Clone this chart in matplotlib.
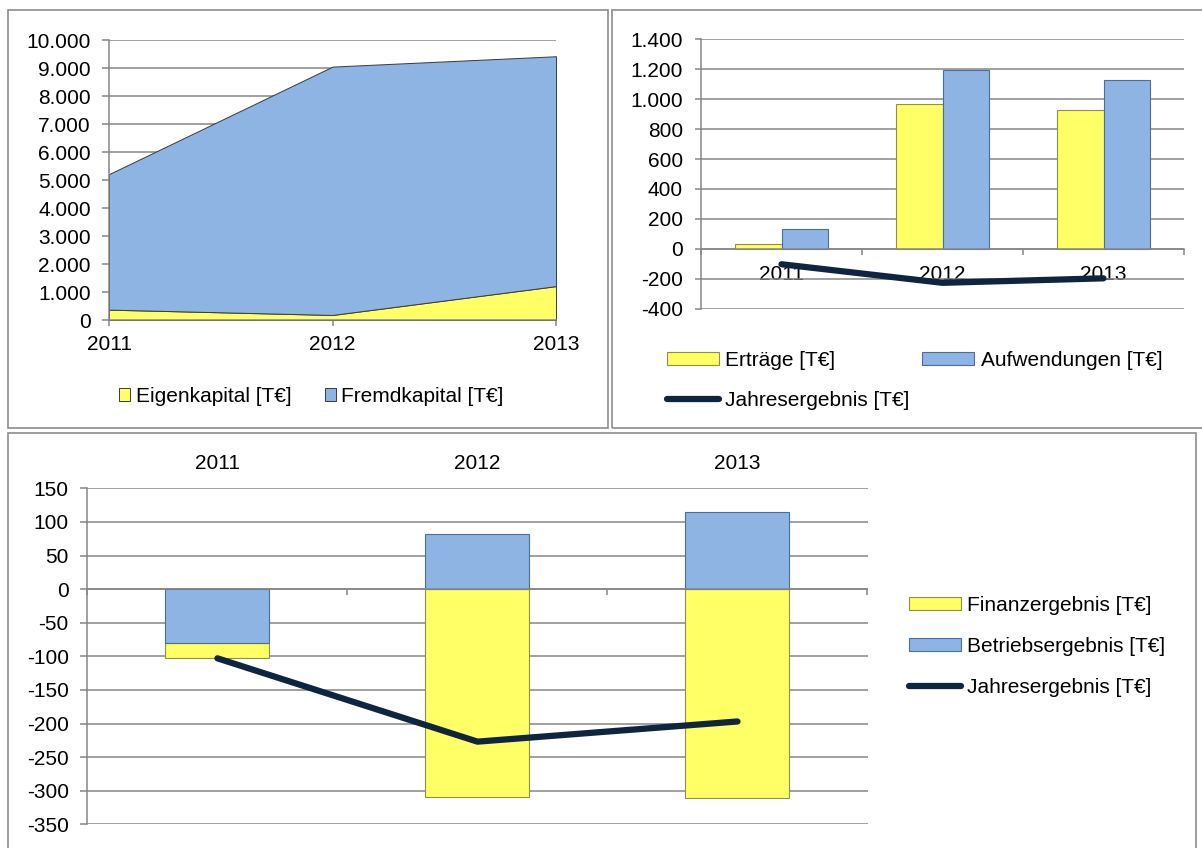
import numpy as np
import matplotlib.pyplot as plt
from matplotlib.patches import Rectangle
from matplotlib.ticker import FuncFormatter, FixedLocator

plt.rcParams['font.family'] = ['Liberation Sans', 'DejaVu Sans']
plt.rcParams['font.size'] = 15

years = ['2011', '2012', '2013']

# Bilanz
eigenkapital = [370, 180, 1210]
fremdkapital = [4840, 8870, 8210]

# GuV
ertraege = [30, 965, 928]
aufwendungen = [135, 1193, 1125]

# Ergebnis
betriebsergebnis = [-80, 82, 114]
finanzergebnis = [-23, -309, -311]
jahresergebnis = [-103, -227, -197]

YELLOW = '#FFFF66'
YELLOW_EDGE = '#8F8F45'
BLUE = '#8DB4E2'
BLUE_EDGE = '#4A6E9C'
NAVY = '#0F243E'
GRID = '#868686'

W, H = 1202, 848
fig = plt.figure(figsize=(W / 100, H / 100), dpi=100)


def box(l, t, r, b):
    return [l / W, 1 - b / H, (r - l) / W, (b - t) / H]


def de_fmt(v, pos):
    return f"{v:,.0f}".replace(",", ".")


def style(ax, ylo, yhi, step, tlen, pad):
    ax.set_ylim(ylo, yhi)
    ax.set_yticks(np.arange(ylo, yhi + step / 2, step))
    ax.yaxis.set_major_formatter(FuncFormatter(de_fmt))
    ax.grid(axis='y', color=GRID, lw=1.1)
    ax.set_axisbelow(True)
    for s in ['top', 'right']:
        ax.spines[s].set_visible(False)
    for s in ['left', 'bottom']:
        ax.spines[s].set_color(GRID)
        ax.spines[s].set_linewidth(1.1)
    ax.tick_params(axis='y', color=GRID, length=tlen, width=1.1, pad=pad)
    ax.tick_params(axis='x', color=GRID, width=1.1)


# panel frames
for l, t, r, b in [(8, 10, 608, 428), (612, 10, 1204, 428), (8, 433, 1196, 852)]:
    fig.add_artist(Rectangle((l / W, 1 - b / H), (r - l) / W, (b - t) / H,
                             transform=fig.transFigure, fill=False,
                             edgecolor='#8C8C8C', lw=1.2))

# --- Eigenkapital / Fremdkapital area chart
ax1 = fig.add_axes(box(109, 40, 556, 320))
x = np.arange(len(years))
polys = ax1.stackplot(x, eigenkapital, fremdkapital, colors=[YELLOW, BLUE],
                      edgecolor='#3A3A3A', lw=0.7,
                      labels=['Eigenkapital [T€]', 'Fremdkapital [T€]'])
ax1.set_xlim(0, 2)
style(ax1, 0, 10000, 1000, 5, 8)
ax1.set_xticks(x, years)
ax1.tick_params(axis='x', length=4, pad=7)
fig.legend(handles=polys, loc='upper left', bbox_to_anchor=(119 / W, 1 - 387 / H),
           ncol=2, frameon=False, handlelength=0.55, handleheight=0.55,
           handletextpad=0.25, columnspacing=1.6, borderpad=0, borderaxespad=0)

# --- Erträge / Aufwendungen bars
ax2 = fig.add_axes(box(701, 39.3, 1184, 308.7))
w = 0.288
b1 = ax2.bar(x - w / 2, ertraege, w, color=YELLOW, edgecolor=YELLOW_EDGE, lw=0.8,
             label='Erträge [T€]')
b2 = ax2.bar(x + w / 2, aufwendungen, w, color=BLUE, edgecolor=BLUE_EDGE, lw=0.8,
             label='Aufwendungen [T€]')
l2, = ax2.plot(x, jahresergebnis, color=NAVY, lw=4.5, solid_capstyle='round',
               zorder=4, label='Jahresergebnis [T€]')
ax2.set_xlim(-0.5, 2.5)
style(ax2, -400, 1400, 200, 4.5, 8.5)
ax2.spines['bottom'].set_position(('data', 0))
ax2.set_xticks(x, years)
ax2.xaxis.set_minor_locator(FixedLocator([-0.5, 0.5, 1.5, 2.5]))
ax2.tick_params(axis='x', which='major', length=0, pad=12)
ax2.tick_params(axis='x', which='minor', length=4, color=GRID, width=1.1)
fig.legend(handles=[b1, l2, b2], loc='upper left',
           bbox_to_anchor=(667 / W, 1 - 351 / H), ncol=2, frameon=False,
           handlelength=2.5, handleheight=0.55, handletextpad=0.3,
           columnspacing=0.6, labelspacing=1.0, borderpad=0, borderaxespad=0)

# --- Betriebs- / Finanzergebnis stacked bars
ax3 = fig.add_axes(box(87.4, 488.3, 867.5, 824.3))
betr = np.array(betriebsergebnis)
fin = np.array(finanzergebnis)
fin_bottom = np.where(np.sign(fin) == np.sign(betr), betr, 0)
wb = 0.40
c1 = ax3.bar(x, fin, wb, bottom=fin_bottom, color=YELLOW, edgecolor=YELLOW_EDGE,
             lw=0.8, label='Finanzergebnis [T€]')
c2 = ax3.bar(x, betr, wb, color=BLUE, edgecolor=BLUE_EDGE, lw=0.8,
             label='Betriebsergebnis [T€]')
l3, = ax3.plot(x, jahresergebnis, color=NAVY, lw=4.5, solid_capstyle='round',
               zorder=4, label='Jahresergebnis [T€]')
ax3.set_xlim(-0.5, 2.5)
style(ax3, -350, 150, 50, 5, 8.5)
ax3.spines['bottom'].set_position(('data', 0))
ax3.set_xticks(x, years)
ax3.xaxis.set_minor_locator(FixedLocator([-0.5, 0.5, 1.5, 2.5]))
ax3.tick_params(axis='x', which='major', length=0, bottom=False, top=False,
                labelbottom=False, labeltop=True, pad=11)
ax3.tick_params(axis='x', which='minor', length=4, bottom=True, top=False,
                color=GRID, width=1.1)
fig.legend(handles=[c1, c2, l3], loc='upper left',
           bbox_to_anchor=(909 / W, 1 - 596 / H), frameon=False,
           handlelength=2.5, handleheight=0.55, handletextpad=0.3,
           labelspacing=1.05, borderpad=0, borderaxespad=0)

fig.savefig('out.png', dpi=100, facecolor='white')
